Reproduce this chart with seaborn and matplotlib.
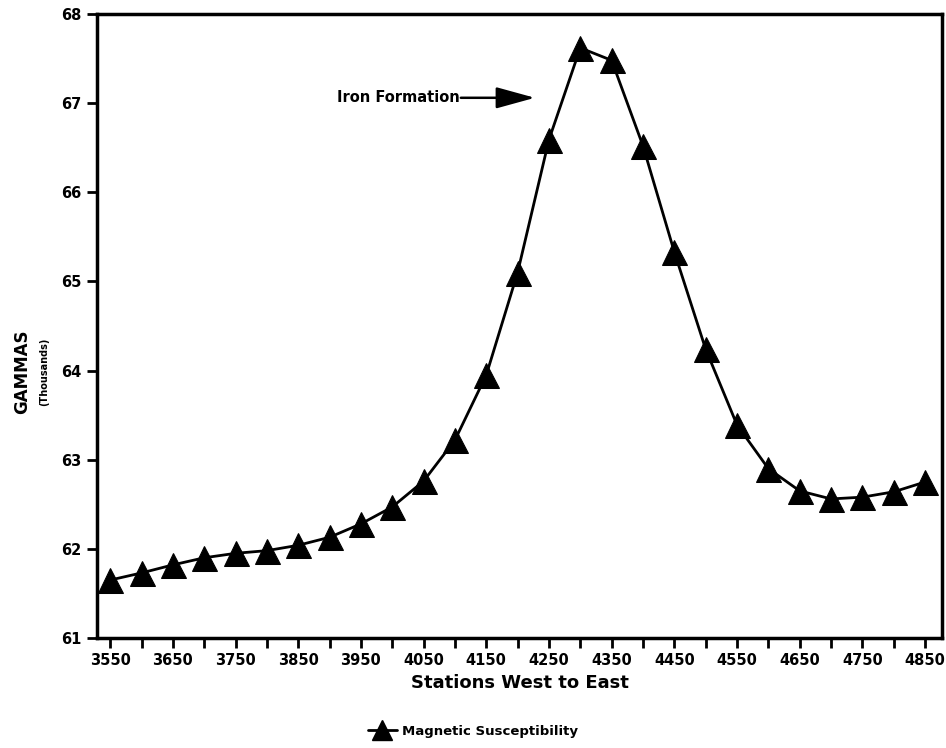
import matplotlib
matplotlib.use("Agg")
import matplotlib.pyplot as plt
import seaborn as sns
import pandas as pd

# Magnetometer profile along the survey line
stations = [3550, 3600, 3650, 3700, 3750, 3800, 3850, 3900, 3950, 4000,
            4050, 4100, 4150, 4200, 4250, 4300, 4350, 4400, 4450, 4500,
            4550, 4600, 4650, 4700, 4750, 4800, 4850]
gammas_thousands = [61.65, 61.73, 61.82, 61.90, 61.95, 61.98, 62.04, 62.13, 62.28, 62.47,
                    62.76, 63.22, 63.95, 65.10, 66.59, 67.62, 67.48, 66.52, 65.33, 64.24,
                    63.39, 62.90, 62.65, 62.56, 62.58, 62.64, 62.75]
series_name = "Magnetic Susceptibility"
y_ticks = [61, 62, 63, 64, 65, 66, 67, 68]

df = pd.DataFrame({"Station": stations, "Gammas": gammas_thousands,
                   "Series": series_name})

sns.set_theme(style="white")
plt.rcParams["font.family"] = ["DejaVu Sans"]
plt.rcParams["font.weight"] = "bold"
plt.rcParams["text.color"] = "black"
plt.rcParams["axes.labelcolor"] = "black"
plt.rcParams["xtick.color"] = "black"
plt.rcParams["ytick.color"] = "black"

fig = plt.figure(figsize=(9.46, 7.48), dpi=100)
ax = fig.add_axes([97 / 946, 1 - 638 / 748, (942 - 97) / 946, (638 - 14) / 748])

sns.lineplot(data=df, x="Station", y="Gammas", hue="Series", palette=["black"],
             marker="^", markersize=18, markeredgecolor="black", linewidth=2,
             ax=ax, legend=False)

ax.set_xlim(3529, 4877)
ax.set_ylim(61, 68)
ax.set_xticks(stations)
ax.set_xticklabels([str(s) if i % 2 == 0 else "" for i, s in enumerate(stations)],
                   fontsize=10.5, fontweight="heavy")
ax.set_yticks(y_ticks)
ax.set_yticklabels([str(v) for v in y_ticks], fontsize=10.5, fontweight="heavy")
ax.tick_params(axis="both", direction="out", length=7, width=2, color="black",
               labelcolor="black", bottom=True, left=True, pad=4)

for side in ["left", "bottom", "right", "top"]:
    ax.spines[side].set_visible(True)
    ax.spines[side].set_color("black")
    ax.spines[side].set_linewidth(2.5)

ax.set_xlabel("Stations West to East", fontsize=13, fontweight="bold",
              color="black", labelpad=4)
ax.set_ylabel("")
fig.text(22 / 946, 1 - 372 / 748, "GAMMAS", rotation=90, fontsize=12,
         fontweight="bold", ha="center", va="center", color="black")
fig.text(44 / 946, 1 - 372 / 748, "(Thousands)", rotation=90, fontsize=7,
         fontweight="bold", ha="center", va="center", color="black")

# Annotation pointing at the anomaly
ax.annotate("", xy=(4232, 67.06), xytext=(4105, 67.06),
            arrowprops=dict(arrowstyle="-|>,head_length=2.0,head_width=0.55",
                            color="black", lw=1.8))
ax.text(4107, 67.06, "Iron Formation", fontsize=10.5, fontweight="bold",
        ha="right", va="center", color="black")

# Legend below the axes
handle = plt.Line2D([], [], color="black", marker="^", markersize=14, linewidth=2)
fig.legend([handle], [series_name], loc="center", bbox_to_anchor=(0.5, 1 - 731 / 748),
           frameon=False, handlelength=2.2, handletextpad=0.4,
           prop={"weight": "bold", "size": 9.5})

fig.savefig("out.png", dpi=100, facecolor="white")
